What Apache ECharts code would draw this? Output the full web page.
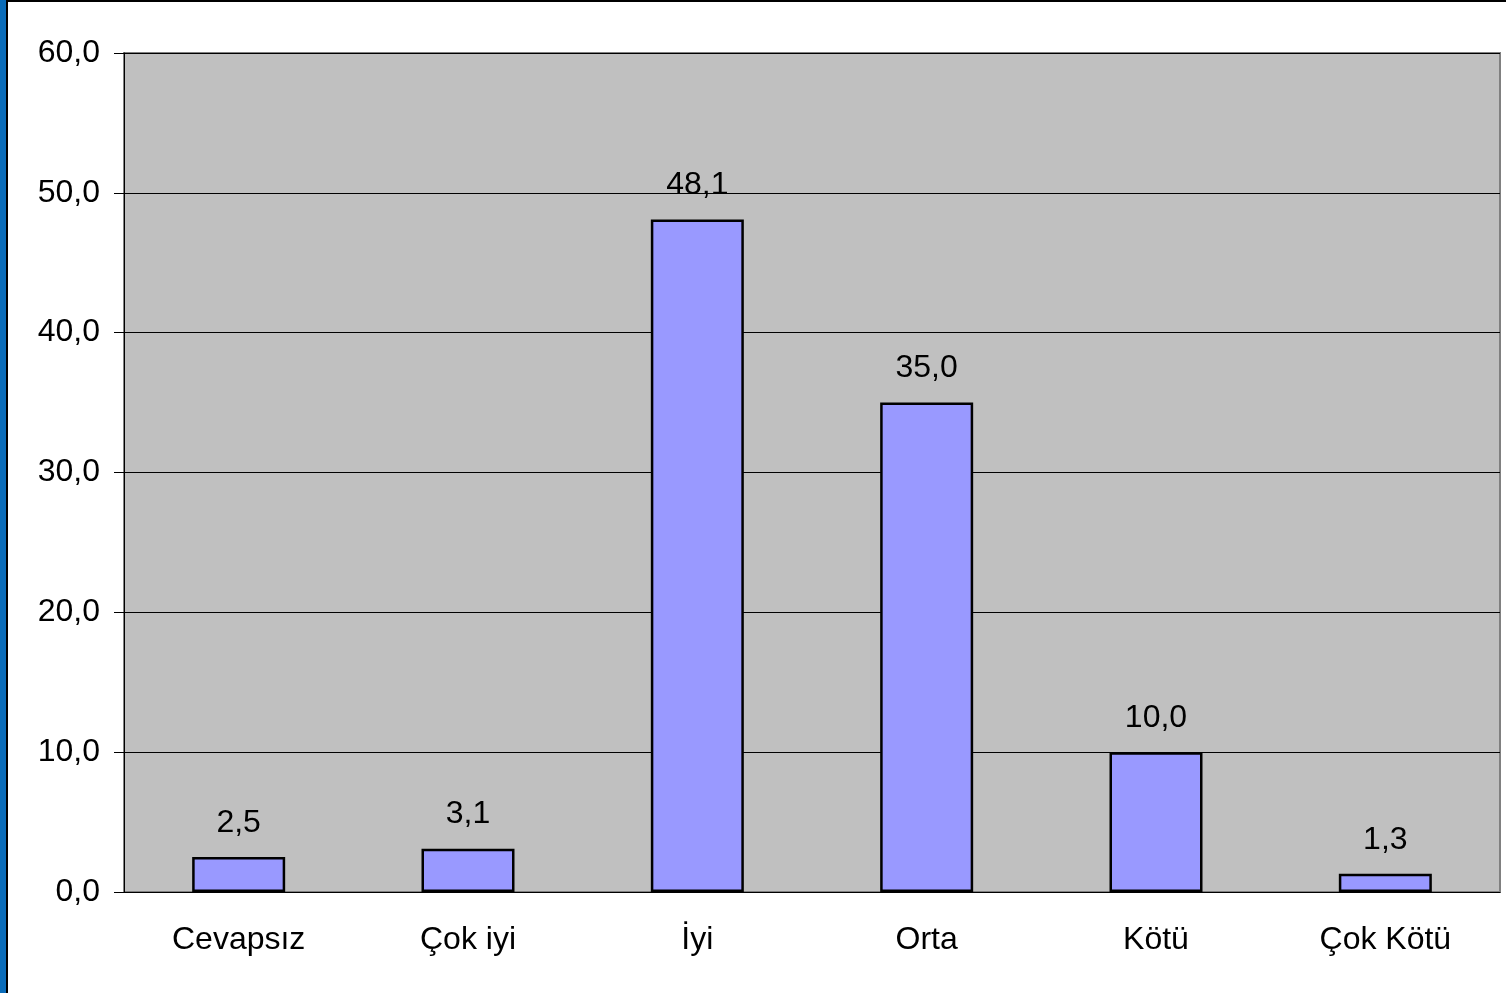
<!DOCTYPE html>
<html>
<head>
<meta charset="utf-8">
<script src="https://cdn.jsdelivr.net/npm/echarts@6/dist/echarts.min.js"></script>
<style>
  html, body { margin: 0; padding: 0; background: #fff; }
  #main { position: absolute; left: 0; top: 0; width: 1506px; height: 993px; }
  .edge-blue { position: absolute; left: 0; top: 0; width: 6px; height: 993px; background: #0a6cb9; }
  .edge-left { position: absolute; left: 6px; top: 0; width: 2px; height: 993px; background: #000; }
  .edge-top { position: absolute; left: 6px; top: 0; width: 1500px; height: 2px; background: #000; }
</style>
</head>
<body>
<div id="main"></div>
<div class="edge-blue"></div>
<div class="edge-left"></div>
<div class="edge-top"></div>
<script>
  var categories = ['Cevapsız', 'Çok iyi', 'İyi', 'Orta', 'Kötü', 'Çok Kötü'];
  var values = [2.5, 3.1, 48.1, 35.0, 10.0, 1.3];

  var fmt = function (v) { return Number(v).toFixed(1).replace('.', ','); };
  var font = 'Liberation Sans, Arial, sans-serif';

  var myChart = echarts.init(document.getElementById('main'));
  var option = {
    animation: false,
    backgroundColor: '#fff',
    grid: {
      left: 124, right: 6, top: 53, bottom: 101,
      show: true,
      backgroundColor: '#c0c0c0',
      borderColor: '#808080',
      borderWidth: 2
    },
    xAxis: {
      type: 'category',
      data: categories,
      axisLine: { lineStyle: { color: '#000', width: 1 } },
      axisTick: { length: 10, lineStyle: { color: '#555' } },
      axisLabel: { color: '#000', fontFamily: font, fontSize: 32, margin: 32 }
    },
    yAxis: {
      type: 'value',
      min: 0, max: 60, interval: 10,
      axisLine: { show: true, lineStyle: { color: '#000', width: 1 } },
      axisTick: { show: true, length: 10, lineStyle: { color: '#000' } },
      axisLabel: { color: '#000', fontFamily: font, fontSize: 32, margin: 24, formatter: fmt },
      splitLine: { lineStyle: { color: '#000', width: 1 } }
    },
    series: [{
      type: 'bar',
      data: values,
      barWidth: 93,
      itemStyle: { color: '#9999ff', borderColor: '#000', borderWidth: 2.5 },
      label: {
        show: true, position: 'top', distance: 18,
        color: '#000', fontFamily: font, fontSize: 32,
        formatter: function (p) { return fmt(p.value); }
      }
    }]
  };
  myChart.setOption(option);
</script>
</body>
</html>
